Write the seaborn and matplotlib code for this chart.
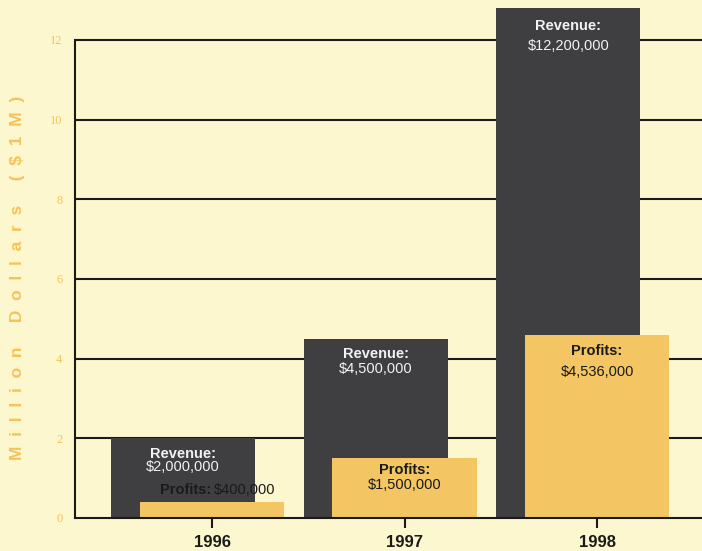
import matplotlib
matplotlib.use("Agg")
import matplotlib.pyplot as plt
import seaborn as sns
import pandas as pd

years = ["1996", "1997", "1998"]
revenue = [2.0, 4.5, 12.8]      # bar heights as drawn (million $)
profits = [0.4, 1.5, 4.6]
revenue_labels = ["$2,000,000", "$4,500,000", "$12,200,000"]
profit_labels = ["$400,000", "$1,500,000", "$4,536,000"]
yticks = [0, 2, 4, 6, 8, 10, 12]

BG = "#fdf7cf"
DARK = "#3f3f42"
GOLD = "#f3c663"
YTXT = "#f2c45a"

sns.set_theme(style="white")
plt.rcParams["font.family"] = ["Liberation Sans", "DejaVu Sans"]

fig = plt.figure(figsize=(7.02, 5.51), dpi=100, facecolor=BG)
ax = fig.add_axes([75 / 702, 33 / 551, 1 - 75 / 702, 518 / 551])
ax.set_facecolor(BG)

df = pd.DataFrame({"year": years, "revenue": revenue, "profits": profits})

sns.barplot(data=df, x="year", y="revenue", color=DARK, saturation=1,
            width=0.75, ax=ax, zorder=2, linewidth=0)
for p in ax.patches:
    p.set_x(p.get_x() - 0.15)
sns.barplot(data=df, x="year", y="profits", color=GOLD, saturation=1,
            width=0.75, ax=ax, zorder=3, linewidth=0)

ax.set_xlim(-0.712, 2.545)
ax.set_ylim(0, 13.0)
ax.set_yticks(yticks)
ax.set_yticklabels([str(v) for v in yticks], fontfamily="Liberation Serif",
                   fontsize=9, color=YTXT)
ax.tick_params(axis="y", length=0, pad=9)
ax.tick_params(axis="x", length=7, width=1.5, color="#1a1a1a", pad=5,
               direction="out", bottom=True)
for lab in ax.get_xticklabels():
    lab.set_fontweight("bold")
    lab.set_fontsize(12)
    lab.set_color("#1a1a1a")

for y in yticks[1:]:
    ax.axhline(y, color="#1a1a1a", lw=1.5, zorder=1)

for s in ["top", "right"]:
    ax.spines[s].set_visible(False)
ax.spines["left"].set_bounds(0, 12)
ax.spines["left"].set_color("#1a1a1a")
ax.spines["left"].set_linewidth(1.5)
ax.spines["bottom"].set_color("#1a1a1a")
ax.spines["bottom"].set_linewidth(1.5)
ax.spines["bottom"].set_zorder(5)

ax.set_xlabel("")
ax.set_ylabel("")
fig.text(18 / 702, 1 - 278 / 551,
         "M  i  l  l  i  o  n     D  o  l  l  a  r  s     (  \\$  1  M  )",
         rotation=90, ha="center", va="center", color=YTXT,
         fontsize=12.5, fontweight="bold")

LIGHT = "#f2f2f2"
INK = "#1a1a1a"
fs = 10.5
# Revenue labels: (offset of "Revenue:", offset of value) in points below bar top
rev_off = [(-11, -20.5), (-11, -21.5), (-13, -27.5)]
for i, (r, lbl) in enumerate(zip(revenue, revenue_labels)):
    x = i - 0.15
    ax.annotate("Revenue:", (x, r), xytext=(0, rev_off[i][0]), textcoords="offset points",
                ha="center", va="center", color=LIGHT, fontsize=fs,
                fontweight="bold", zorder=6)
    ax.annotate(lbl, (x, r), xytext=(0, rev_off[i][1]), textcoords="offset points",
                ha="center", va="center", color=LIGHT, fontsize=fs, zorder=6)

# Profits labels
ax.annotate("Profits:", (0 - 0.005, profits[0]), xytext=(0, 8.6),
            textcoords="offset points", ha="right", va="center", color=INK,
            fontsize=fs, fontweight="bold", zorder=6)
ax.annotate(profit_labels[0], (0 + 0.01, profits[0]), xytext=(0, 8.6),
            textcoords="offset points", ha="left", va="center", color=INK,
            fontsize=fs, zorder=6)
pro_off = [None, (-8.6, -19.4), (-12, -27)]
for i in [1, 2]:
    ax.annotate("Profits:", (i, profits[i]), xytext=(0, pro_off[i][0]), textcoords="offset points",
                ha="center", va="center", color=INK, fontsize=fs,
                fontweight="bold", zorder=6)
    ax.annotate(profit_labels[i], (i, profits[i]), xytext=(0, pro_off[i][1]),
                textcoords="offset points", ha="center", va="center", color=INK,
                fontsize=fs, zorder=6)

fig.savefig("out.png", dpi=100, facecolor=BG)
